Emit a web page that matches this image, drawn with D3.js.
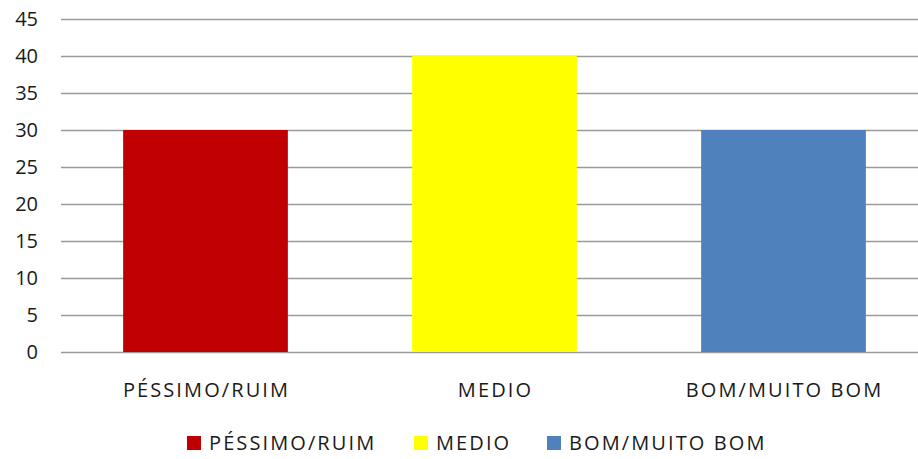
<!DOCTYPE html>
<html><head><meta charset="utf-8">
<script src="https://cdn.jsdelivr.net/npm/d3@7"></script>
<style>body{margin:0;background:#fff;} svg{display:block;} text{font-family:"Open Sans",sans-serif;fill:#1a1a1a;}</style>
</head><body><svg id="c" width="918" height="459"></svg>
<script>
const categories = ["PÉSSIMO/RUIM", "MEDIO", "BOM/MUITO BOM"];
const values = [30, 40, 30];
const colors = ["#C00000", "#FFFF00", "#4F81BD"];
const yTicks = [0, 5, 10, 15, 20, 25, 30, 35, 40, 45];

const svg = d3.select("#c");
const x = d3.scaleBand().domain(categories).range([61, 928]).paddingInner(0).paddingOuter(0);
const y = d3.scaleLinear().domain([0, 45]).range([352, 19]);

// gridlines
svg.append("g").selectAll("line").data(yTicks).join("line")
  .attr("x1", 61).attr("x2", 918)
  .attr("y1", d => Math.round(y(d)) + 0.5).attr("y2", d => Math.round(y(d)) + 0.5)
  .attr("stroke", "#9a9a9a").attr("stroke-width", 1.5);

// y labels
svg.append("g").selectAll("text").data(yTicks).join("text")
  .attr("x", 38).attr("y", d => y(d)).attr("dy", "0.36em")
  .attr("text-anchor", "end").attr("font-size", 20).text(d => d);

// bars
const bw = x.bandwidth() * 0.57;
svg.append("g").selectAll("rect").data(values).join("rect")
  .attr("x", (d, i) => x(categories[i]) + x.bandwidth() / 2 - bw / 2)
  .attr("width", bw)
  .attr("y", d => y(d)).attr("height", d => y(0) - y(d))
  .attr("fill", (d, i) => colors[i]);

// x labels
svg.append("g").selectAll("text").data(categories).join("text")
  .attr("x", d => x(d) + x.bandwidth() / 2 + 1).attr("y", 397)
  .attr("text-anchor", "middle").attr("font-size", 20).attr("letter-spacing", 2.1).text(d => d);

// legend
const legX = [187, 414, 547];
const lg = svg.append("g").selectAll("g").data(categories).join("g")
  .attr("transform", (d, i) => `translate(${legX[i]},450)`);
lg.append("rect").attr("x", 0).attr("y", -14).attr("width", 14).attr("height", 14).attr("fill", (d, i) => colors[i]);
lg.append("text").attr("x", 22).attr("y", 0).attr("font-size", 20).attr("letter-spacing", 2.1).text(d => d);
</script></body></html>
